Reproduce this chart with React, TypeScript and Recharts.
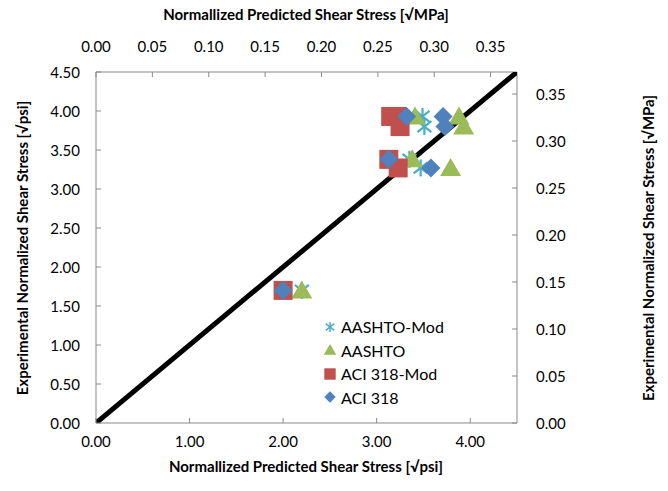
import { ScatterChart, Scatter, XAxis, YAxis, Legend } from "recharts";

// experimental vs predicted, in sqrt(psi)
const aashtoModX = [3.49, 3.51, 3.35, 3.47, 2.2];
const aashtoModY = [3.93, 3.8, 3.38, 3.27, 1.7];
const aashtoX = [3.41, 3.88, 3.93, 3.38, 3.79, 2.2];
const aashtoY = [3.93, 3.93, 3.8, 3.38, 3.27, 1.7];
const aciModX = [3.15, 3.22, 3.25, 3.13, 3.23, 2.0];
const aciModY = [3.93, 3.93, 3.8, 3.38, 3.27, 1.7];
const aciX = [3.32, 3.71, 3.73, 3.13, 3.58, 2.0];
const aciY = [3.93, 3.93, 3.8, 3.38, 3.27, 1.7];

const psiTicksX = [0, 1, 2, 3, 4];
const psiTicksY = [0, 0.5, 1, 1.5, 2, 2.5, 3, 3.5, 4, 4.5];
const mpaTicks = [0, 0.05, 0.1, 0.15, 0.2, 0.25, 0.3, 0.35];
const psiMax = 4.5;
const mpaMax = psiMax / 12.05;

// 1:1 line, plotted on the sqrt(MPa) axes
const equalityX = [0, mpaMax];
const equalityY = [0, mpaMax];

const toPoints = (xs: number[], ys: number[]) => xs.map((x, i) => ({ x, y: ys[i] }));

const axisColor = "#898989";
const font = "Lato, 'Open Sans', sans-serif";
const CYAN = "#4BACC6";
const GREEN = "#9BBB59";
const RED = "#C0504D";
const BLUE = "#4F81BD";

const Star = ({ cx, cy, s = 1 }: any) => (
  <g stroke={CYAN} strokeWidth={2.2 * Math.max(s, 0.7)} fill="none">
    <line x1={cx} y1={cy - 8.5 * s} x2={cx} y2={cy + 8.5 * s} />
    <line x1={cx - 7 * s} y1={cy - 5.5 * s} x2={cx + 7 * s} y2={cy + 5.5 * s} />
    <line x1={cx - 7 * s} y1={cy + 5.5 * s} x2={cx + 7 * s} y2={cy - 5.5 * s} />
  </g>
);
const Tri = ({ cx, cy, s = 1 }: any) => (
  <polygon
    points={`${cx},${cy - 10 * s} ${cx + 10.5 * s},${cy + 8 * s} ${cx - 10.5 * s},${cy + 8 * s}`}
    fill={GREEN}
  />
);
const Sq = ({ cx, cy, s = 1 }: any) => (
  <rect x={cx - 9.5 * s} y={cy - 9.5 * s} width={19 * s} height={19 * s} fill={RED} />
);
const Dia = ({ cx, cy, s = 1 }: any) => (
  <polygon
    points={`${cx},${cy - 9.5 * s} ${cx + 9.5 * s},${cy} ${cx},${cy + 9.5 * s} ${cx - 9.5 * s},${cy}`}
    fill={BLUE}
  />
);

const tickText = { fontFamily: font, fontSize: 15, fill: "#000" };

const BottomTick = ({ x, y, payload }: any) => (
  <g>
    <line x1={x} x2={x} y1={y} y2={y - 5} stroke={axisColor} />
    <text x={x} y={y + 18} textAnchor="middle" dominantBaseline="central" {...tickText}>
      {payload.value.toFixed(2)}
    </text>
  </g>
);
const TopTick = ({ x, y, payload }: any) => (
  <g>
    <line x1={x} x2={x} y1={y} y2={y + 5} stroke={axisColor} />
    <text x={x} y={y - 26} textAnchor="middle" dominantBaseline="central" {...tickText}>
      {payload.value.toFixed(2)}
    </text>
  </g>
);
const LeftTick = ({ x, y, payload }: any) => (
  <g>
    <line x1={x} x2={x + 5} y1={y} y2={y} stroke={axisColor} />
    <text x={x - 16} y={y} textAnchor="end" dominantBaseline="central" {...tickText}>
      {payload.value.toFixed(2)}
    </text>
  </g>
);
const RightTick = ({ x, y, payload }: any) => (
  <g>
    <line x1={x} x2={x - 5} y1={y} y2={y} stroke={axisColor} />
    <text x={x + 19} y={y} textAnchor="start" dominantBaseline="central" {...tickText}>
      {payload.value.toFixed(2)}
    </text>
  </g>
);

const legendItems = [
  { name: "AASHTO-Mod", Icon: Star },
  { name: "AASHTO", Icon: Tri },
  { name: "ACI 318-Mod", Icon: Sq },
  { name: "ACI 318", Icon: Dia },
];

const LegendBox = () => (
  <div style={{ fontFamily: font, fontSize: 16, lineHeight: "23.5px" }}>
    {legendItems.map(({ name, Icon }) => (
      <div key={name} style={{ display: "flex", alignItems: "center" }}>
        <svg width={16} height={16} style={{ marginRight: 3 }}>
          <Icon cx={8} cy={8} s={0.6} />
        </svg>
        <span>{name}</span>
      </div>
    ))}
  </div>
);

const titleStyle: any = {
  position: "absolute",
  fontFamily: font,
  fontWeight: 700,
  fontSize: 15,
  whiteSpace: "nowrap",
  color: "#000",
};

export default function App() {
  return (
    <div style={{ position: "absolute", left: 0, top: 0, width: 668, height: 491, background: "#fff" }}>
      <ScatterChart width={668} height={491} margin={{ top: 32, right: 91, bottom: 28, left: 46 }}>
        <XAxis
          xAxisId="bottom"
          type="number"
          dataKey="x"
          domain={[0, psiMax]}
          ticks={psiTicksX}
          allowDataOverflow
          height={40}
          stroke={axisColor}
          tickLine={false}
          tickSize={0}
          tickMargin={0}
          tick={<BottomTick />}
        />
        <XAxis
          xAxisId="top"
          orientation="top"
          type="number"
          dataKey="x"
          domain={[0, mpaMax]}
          ticks={mpaTicks}
          allowDataOverflow
          height={40}
          stroke={axisColor}
          tickLine={false}
          tickSize={0}
          tickMargin={0}
          tick={<TopTick />}
        />
        <YAxis
          yAxisId="left"
          type="number"
          dataKey="y"
          domain={[0, psiMax]}
          ticks={psiTicksY}
          allowDataOverflow
          width={50}
          stroke={axisColor}
          tickLine={false}
          tickSize={0}
          tickMargin={0}
          tick={<LeftTick />}
        />
        <YAxis
          yAxisId="right"
          orientation="right"
          type="number"
          dataKey="y"
          domain={[0, mpaMax]}
          ticks={mpaTicks}
          allowDataOverflow
          width={60}
          stroke={axisColor}
          tickLine={false}
          tickSize={0}
          tickMargin={0}
          tick={<RightTick />}
        />
        <Scatter
          name="1:1"
          xAxisId="top"
          yAxisId="right"
          data={toPoints(equalityX, equalityY)}
          line={{ stroke: "#000", strokeWidth: 5 }}
          shape={() => <g />}
          legendType="none"
          isAnimationActive={false}
        />
        <Scatter
          name="AASHTO-Mod"
          xAxisId="bottom"
          yAxisId="left"
          data={toPoints(aashtoModX, aashtoModY)}
          shape={(p: any) => <Star cx={p.cx} cy={p.cy} />}
          isAnimationActive={false}
        />
        <Scatter
          name="AASHTO"
          xAxisId="bottom"
          yAxisId="left"
          data={toPoints(aashtoX, aashtoY)}
          shape={(p: any) => <Tri cx={p.cx} cy={p.cy} />}
          isAnimationActive={false}
        />
        <Scatter
          name="ACI 318-Mod"
          xAxisId="bottom"
          yAxisId="left"
          data={toPoints(aciModX, aciModY)}
          shape={(p: any) => <Sq cx={p.cx} cy={p.cy} />}
          isAnimationActive={false}
        />
        <Scatter
          name="ACI 318"
          xAxisId="bottom"
          yAxisId="left"
          data={toPoints(aciX, aciY)}
          shape={(p: any) => <Dia cx={p.cx} cy={p.cy} />}
          isAnimationActive={false}
        />
        <Legend
          layout="vertical"
          align="center"
          verticalAlign="middle"
          content={<LegendBox />}
          wrapperStyle={{ left: 322, top: 315, width: 140 }}
        />
      </ScatterChart>
      <div style={{ ...titleStyle, left: 306, top: 466, transform: "translate(-50%, -50%)" }}>
        Normallized Predicted Shear Stress [√psi]
      </div>
      <div style={{ ...titleStyle, left: 306, top: 14, transform: "translate(-50%, -50%)" }}>
        Normallized Predicted Shear Stress [√MPa]
      </div>
      <div style={{ ...titleStyle, left: 22, top: 248, transform: "translate(-50%, -50%) rotate(-90deg)" }}>
        Experimental Normalized Shear Stress [√psi]
      </div>
      <div style={{ ...titleStyle, left: 648, top: 248, transform: "translate(-50%, -50%) rotate(-90deg)" }}>
        Experimental Normalized Shear Stress [√MPa]
      </div>
    </div>
  );
}
